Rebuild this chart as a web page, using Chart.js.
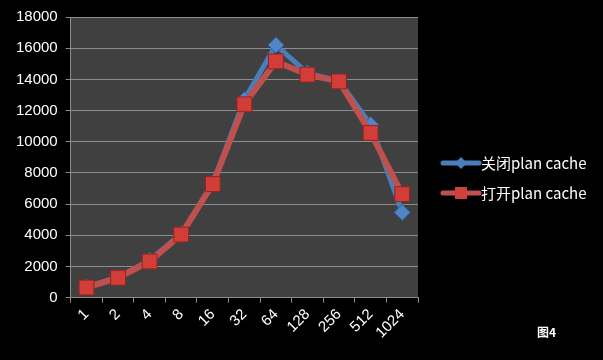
<!DOCTYPE html>
<html><head><meta charset="utf-8">
<script src="https://cdn.jsdelivr.net/npm/chart.js@4/dist/chart.umd.min.js"></script>
<style>
html,body{margin:0;padding:0;background:#000;}
#wrap{position:relative;width:603px;height:360px;}
#fig{position:absolute;left:537px;top:323px;color:#fff;font:bold 12px "Noto Sans CJK SC","Liberation Sans",sans-serif;}
</style></head>
<body><div id="wrap"><canvas id="c" width="603" height="360"></canvas><div id="fig">图4</div></div>
<script>
const categories = ['1','2','4','8','16','32','64','128','256','512','1024'];
const seriesNames = ['关闭plan cache','打开plan cache'];
const cacheOff = [700,1300,2400,4100,7350,12700,16200,14400,13900,11100,5470];
const cacheOn  = [650,1280,2320,4050,7280,12400,15150,14300,13870,10570,6640];
const yTicks = [0,2000,4000,6000,8000,10000,12000,14000,16000,18000];

const blue = '#4a7ebb', red = '#c0504d';
const FONT = '"Liberation Sans", sans-serif';

const bgPlugin = {
  id:'bg',
  beforeDraw(chart){
    const {ctx, chartArea:a} = chart;
    ctx.save();
    ctx.fillStyle = '#000'; ctx.fillRect(0,0,chart.width,chart.height);
    ctx.fillStyle = '#404040'; ctx.fillRect(a.left,a.top,a.right-a.left,a.bottom-a.top);
    ctx.restore();
  }
};
const legendPlugin = {
  id:'customLegend',
  afterDraw(chart){
    const ctx = chart.ctx;
    const items = [
      {name:seriesNames[0], color:blue, style:'rectRot', y:163},
      {name:seriesNames[1], color:red, style:'rect', y:193}
    ];
    ctx.save();
    items.forEach(it=>{
      ctx.strokeStyle = it.color; ctx.lineWidth = 5; ctx.lineCap='round';
      ctx.beginPath(); ctx.moveTo(443,it.y); ctx.lineTo(479,it.y); ctx.stroke();
      ctx.fillStyle = it.color;
      if(it.style==='rectRot'){
        ctx.beginPath(); ctx.moveTo(461,it.y-6); ctx.lineTo(467,it.y); ctx.lineTo(461,it.y+6); ctx.lineTo(455,it.y); ctx.closePath(); ctx.fill();
      } else {
        ctx.fillStyle='#d0403c'; ctx.fillRect(455,it.y-6,12,12);
      }
      ctx.fillStyle = '#fff';
      ctx.font = '15px "Noto Sans CJK SC", sans-serif';
      ctx.textBaseline='middle';
      ctx.fillText(it.name, 481, it.y);
    });
    ctx.restore();
  }
};

new Chart(document.getElementById('c'), {
  type:'line',
  data:{
    labels:categories,
    datasets:[
      {label:seriesNames[0], data:cacheOff, borderColor:blue, backgroundColor:blue, borderWidth:5,
       pointStyle:'rectRot', pointRadius:8, pointBackgroundColor:'#4f86c6', pointBorderColor:'#2f5f9a', pointBorderWidth:1, order:1, tension:0},
      {label:seriesNames[1], data:cacheOn, borderColor:red, backgroundColor:red, borderWidth:6,
       pointStyle:'rect', pointRadius:10.5, pointBackgroundColor:'#d33d38', pointBorderColor:'#8e2522', pointBorderWidth:1, order:0, tension:0}
    ]
  },
  options:{
    responsive:false, animation:false, devicePixelRatio:1,
    layout:{padding:{left:8,top:10,right:185,bottom:15}},
    plugins:{legend:{display:false}, tooltip:{enabled:false}},
    scales:{
      x:{
        offset:true,
        grid:{display:true, drawOnChartArea:false, drawTicks:true, tickLength:5, color:'#8c8c8c', offset:true},
        border:{display:true, color:'#8c8c8c'},
        ticks:{color:'#fff', font:{family:FONT,size:15}, minRotation:45, maxRotation:45, padding:3}
      },
      y:{
        min:0, max:18000,
        afterBuildTicks(scale){ scale.ticks = yTicks.map(v=>({value:v})); },
        grid:{color:'#8c8c8c', tickLength:5, lineWidth:1},
        border:{display:true, color:'#8c8c8c'},
        ticks:{color:'#fff', font:{family:FONT,size:15}, padding:8, callback:v=>String(v)}
      }
    }
  },
  plugins:[bgPlugin, legendPlugin]
});
</script></body></html>
